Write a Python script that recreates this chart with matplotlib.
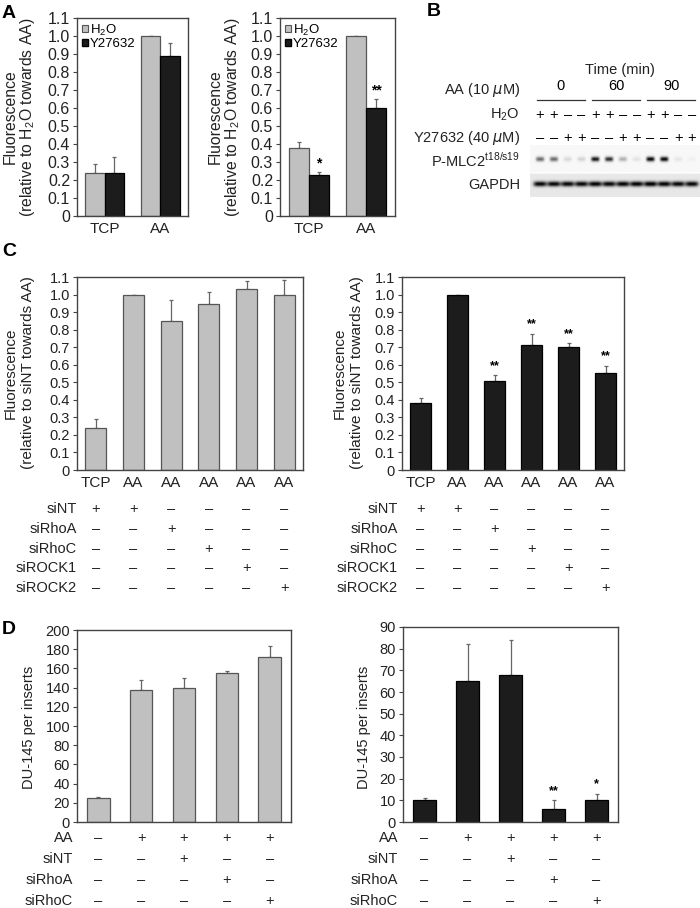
import numpy as np
import matplotlib
matplotlib.use('Agg')
import matplotlib.pyplot as plt
from matplotlib.patches import Patch
from matplotlib.transforms import blended_transform_factory

plt.rcParams['font.family'] = ['Liberation Sans', 'DejaVu Sans']
plt.rcParams['mathtext.fontset'] = 'custom'
plt.rcParams['mathtext.rm'] = 'Liberation Sans'

W, H = 700, 908

# ---------
# DATA
# ---------

# panel A
a_groups = ['TCP', 'AA']
a1_h2o = [0.24, 1.0]
a1_h2o_err = [0.05, 0.0]
a1_y27 = [0.24, 0.89]
a1_y27_err = [0.09, 0.07]
a2_h2o = [0.38, 1.0]
a2_h2o_err = [0.03, 0.0]
a2_y27 = [0.225, 0.60]
a2_y27_err = [0.02, 0.05]
a2_y27_stars = ['*', '**']

# panel B (band intensities per lane)
b_times = ['0', '60', '90']
b_h2o = ['+', '+', '–', '–', '+', '+', '–', '–', '+', '+', '–', '–']
b_y27 = ['–', '–', '+', '+', '–', '–', '+', '+', '–', '–', '+', '+']
b_pmlc = [0.55, 0.55, 0.12, 0.14, 0.9, 0.8, 0.28, 0.08, 0.95, 0.95, 0.07, 0.03]
b_gapdh = [0.9, 0.9, 0.9, 0.9, 0.92, 0.9, 0.92, 0.92, 0.95, 0.92, 0.9, 0.9]

# panel C
c_labels = ['TCP', 'AA', 'AA', 'AA', 'AA', 'AA']
c_rows = ['siNT', 'siRhoA', 'siRhoC', 'siROCK1', 'siROCK2']
c_signs = [['+', '+', '–', '–', '–', '–'],
           ['–', '–', '+', '–', '–', '–'],
           ['–', '–', '–', '+', '–', '–'],
           ['–', '–', '–', '–', '+', '–'],
           ['–', '–', '–', '–', '–', '+']]
c1_vals = [0.24, 1.0, 0.85, 0.947, 1.034, 1.0]
c1_err = [0.05, 0.0, 0.12, 0.068, 0.045, 0.085]
c2_vals = [0.38, 1.0, 0.505, 0.71, 0.70, 0.555]
c2_err = [0.03, 0.0, 0.035, 0.065, 0.022, 0.038]
c2_stars = ['', '', '**', '**', '**', '**']

# panel D
d_rows = ['AA', 'siNT', 'siRhoA', 'siRhoC']
d_signs = [['–', '+', '+', '+', '+'],
           ['–', '–', '+', '–', '–'],
           ['–', '–', '–', '+', '–'],
           ['–', '–', '–', '–', '+']]
d1_vals = [25, 137, 140, 155, 172]
d1_err = [1, 11, 10, 2, 11]
d2_vals = [10, 65, 68, 6, 10]
d2_err = [1, 17, 16, 4, 3]
d2_stars = ['', '', '', '**', '*']

GRAY = '#c0c0c0'
BLACK = '#1c1c1c'

fig = plt.figure(figsize=(7.0, 9.08), dpi=100)


# ---------
# HELPERS
# ---------

def px_axes(l, t, r, b):
    return fig.add_axes([l / W, 1 - b / H, (r - l) / W, (b - t) / H])


def ftext(x, y, s, **kw):
    kw.setdefault('va', 'center')
    return fig.text(x / W, 1 - y / H, s, **kw)


def two_line_label(x1, x2, y, line1, line2, fs):
    ftext(x1, y, line1, rotation=90, ha='center', fontsize=fs, color='#222')
    ftext(x2, y, line2, rotation=90, ha='center', fontsize=fs, color='#222')


def style_axes(ax, ylim, yticks, fmt, fs):
    ax.set_ylim(*ylim)
    ax.set_yticks(yticks)
    ax.set_yticklabels([fmt(t) for t in yticks], fontsize=fs, color='#222')
    ax.tick_params(axis='y', length=3, width=0.8, pad=2, color='#444')
    ax.tick_params(axis='x', length=0, pad=4)
    for s in ax.spines.values():
        s.set_linewidth(1.0)
        s.set_color('#444')


def bars(ax, x, vals, errs, color, width, stars=None, star_off=0.0, star_fs=9):
    edge = '#555555' if color == GRAY else '#000000'
    ax.bar(x, vals, width, color=color, edgecolor=edge, linewidth=0.9, zorder=2)
    ax.errorbar(x, vals, yerr=[np.zeros(len(vals)), errs], fmt='none',
                ecolor='#666666', elinewidth=0.9, capsize=1.5, capthick=0.9, zorder=1)
    if stars:
        for xi, v, e, s in zip(x, vals, errs, stars):
            if s:
                ax.text(xi, v + e + star_off, s, ha='center', va='bottom',
                        fontsize=star_fs, fontweight='bold')


def sign_rows(ax, names, signs, ys, fs=10.5, label_x=None):
    tr = blended_transform_factory(ax.transData, fig.transFigure)
    for name, row, y in zip(names, signs, ys):
        ftext(label_x, y, name, ha='right', fontsize=fs, color='#222')
        for i, s in enumerate(row):
            ax.text(i, 1 - y / H, s, transform=tr, ha='center', va='center',
                    fontsize=fs, clip_on=False, color='#222')


fmt1 = lambda t: '0' if t == 0 else '%.1f' % t
fmtint = lambda t: '%d' % t
yt_frac = np.round(np.arange(0, 1.11, 0.1), 1)

# ---------
# PANEL A
# ---------

for (l, r), h2o, h2oe, y27, y27e, stars, (lx1, lx2) in [
        ((77, 188), a1_h2o, a1_h2o_err, a1_y27, a1_y27_err, None, (10, 28)),
        ((280, 395), a2_h2o, a2_h2o_err, a2_y27, a2_y27_err, a2_y27_stars, (215, 233))]:
    ax = px_axes(l, 18, r, 216)
    x = np.arange(len(a_groups))
    w = 0.35
    bars(ax, x - w / 2, h2o, h2oe, GRAY, w)
    bars(ax, x + w / 2, y27, y27e, BLACK, w, stars=stars, star_off=0.01, star_fs=10)
    ax.set_xlim(-0.5, 1.5)
    ax.set_xticks(x)
    ax.set_xticklabels(a_groups, fontsize=11, color='#222')
    style_axes(ax, (0, 1.1), yt_frac, fmt1, 11.5)
    ax.legend(handles=[Patch(facecolor=GRAY, edgecolor='#555', linewidth=0.8),
                       Patch(facecolor=BLACK, edgecolor='#000')],
              labels=['H$_2$O', 'Y27632'], loc='upper left', frameon=False,
              fontsize=9.5, handlelength=0.45, handleheight=0.45, handletextpad=0.15,
              labelspacing=0.05, borderaxespad=0.2, borderpad=0.15)
    two_line_label(lx1, lx2, 117, 'Fluorescence',
                   '(relative to H$_2$O towards AA)', 11.3)

ftext(2, 14, 'A', fontsize=14, fontweight='bold')

# ---------
# PANEL B
# ---------

ftext(427, 12, 'B', fontsize=14, fontweight='bold')
bax = px_axes(530, 145, 700, 197)
lane0, dlane = 540, 13.82
xl = (-(lane0 - 530) / dlane, 11 + (700 - (lane0 + 11 * dlane)) / dlane)
gx = np.linspace(xl[0], xl[1], 500)
gy = np.linspace(0, 1, 200)
XX, YY = np.meshgrid(gx, gy)
img = np.where(YY < 0.53, 0.03, 0.09)
img[(YY > 0.52) & (YY < 0.55)] = 0.0
for i in range(12):
    img += b_pmlc[i] * np.exp(-((XX - i) / 0.3) ** 4 - ((YY - 0.27) / 0.045) ** 2)
    img += b_gapdh[i] * np.exp(-((XX - i) / 0.48) ** 4 - ((YY - 0.75) / 0.05) ** 2)
bax.imshow(np.clip(img, 0, 1), cmap='gray_r', vmin=0, vmax=1, aspect='auto',
           extent=(xl[0], xl[1], 1, 0), interpolation='bilinear')
bax.set_xlim(*xl)
bax.set_ylim(1, 0)
bax.axis('off')

ftext(620, 70, 'Time (min)', ha='center', fontsize=10.5, color='#222')
ftext(520, 90, 'AA (10 $\\mu$M)', ha='right', fontsize=10.5, color='#222')
tr_b = blended_transform_factory(bax.transData, fig.transFigure)
for k, t in enumerate(b_times):
    c = 4 * k + 1.5
    bax.text(c, 1 - 86 / H, t, transform=tr_b, ha='center', va='center', fontsize=10.5)
    bax.plot([c - 1.75, c + 1.75], [1 - 100 / H] * 2, transform=tr_b, color='#333',
             lw=0.9, clip_on=False)
ftext(520, 115, 'H$_2$O', ha='right', fontsize=10.5, color='#222')
ftext(520, 138, 'Y27632 (40 $\\mu$M)', ha='right', fontsize=10.5, color='#222')
ftext(520, 160, 'P-MLC2$^{\\mathrm{t18/s19}}$', ha='right', fontsize=10.5, color='#222')
ftext(520, 185, 'GAPDH', ha='right', fontsize=10.5, color='#222')
for i in range(12):
    bax.text(i, 1 - 115 / H, b_h2o[i], transform=tr_b, ha='center', va='center', fontsize=10.5)
    bax.text(i, 1 - 138 / H, b_y27[i], transform=tr_b, ha='center', va='center', fontsize=10.5)

# ---------
# PANEL C
# ---------

ftext(2, 252, 'C', fontsize=14, fontweight='bold')
c_row_y = [509, 529, 549, 568, 588]
for (l, r), vals, errs, color, stars, (lx1, lx2), rl_x in [
        ((77, 303), c1_vals, c1_err, GRAY, None, (11, 28), 77),
        ((402, 624), c2_vals, c2_err, BLACK, c2_stars, (340, 357), 398)]:
    ax = px_axes(l, 277, r, 470)
    x = np.arange(len(vals))
    bars(ax, x, vals, errs, color, 0.55, stars=stars, star_off=0.02, star_fs=9)
    ax.set_xlim(-0.5, len(vals) - 0.5)
    ax.set_xticks(x)
    ax.set_xticklabels(c_labels, fontsize=11, color='#222')
    style_axes(ax, (0, 1.1), yt_frac, fmt1, 10.5)
    two_line_label(lx1, lx2, 373, 'Fluorescence', '(relative to siNT towards AA)', 11)
    sign_rows(ax, c_rows, c_signs, c_row_y, fs=10.5, label_x=rl_x)

# ---------
# PANEL D
# ---------

ftext(2, 630, 'D', fontsize=14, fontweight='bold')
d_row_y = [838, 859, 880, 901]
for (l, t, r), vals, errs, color, stars, ylim, step, lab_x, rl_x, soff in [
        ((77, 630, 291), d1_vals, d1_err, GRAY, None, 200, 20, 29, 73, 0),
        ((403, 627, 618), d2_vals, d2_err, BLACK, d2_stars, 90, 10, 364, 398, 1.5)]:
    ax = px_axes(l, t, r, 822)
    x = np.arange(len(vals))
    bars(ax, x, vals, errs, color, 0.52, stars=stars, star_off=soff, star_fs=9)
    ax.set_xlim(-0.5, len(vals) - 0.5)
    ax.set_xticks([])
    style_axes(ax, (0, ylim), np.arange(0, ylim + 1, step), fmtint, 10.5)
    ftext(lab_x, 727, 'DU-145 per inserts', rotation=90, ha='center', fontsize=10.5,
          color='#222')
    sign_rows(ax, d_rows, d_signs, d_row_y, fs=10.5, label_x=rl_x)

fig.savefig('out.png', dpi=100)
